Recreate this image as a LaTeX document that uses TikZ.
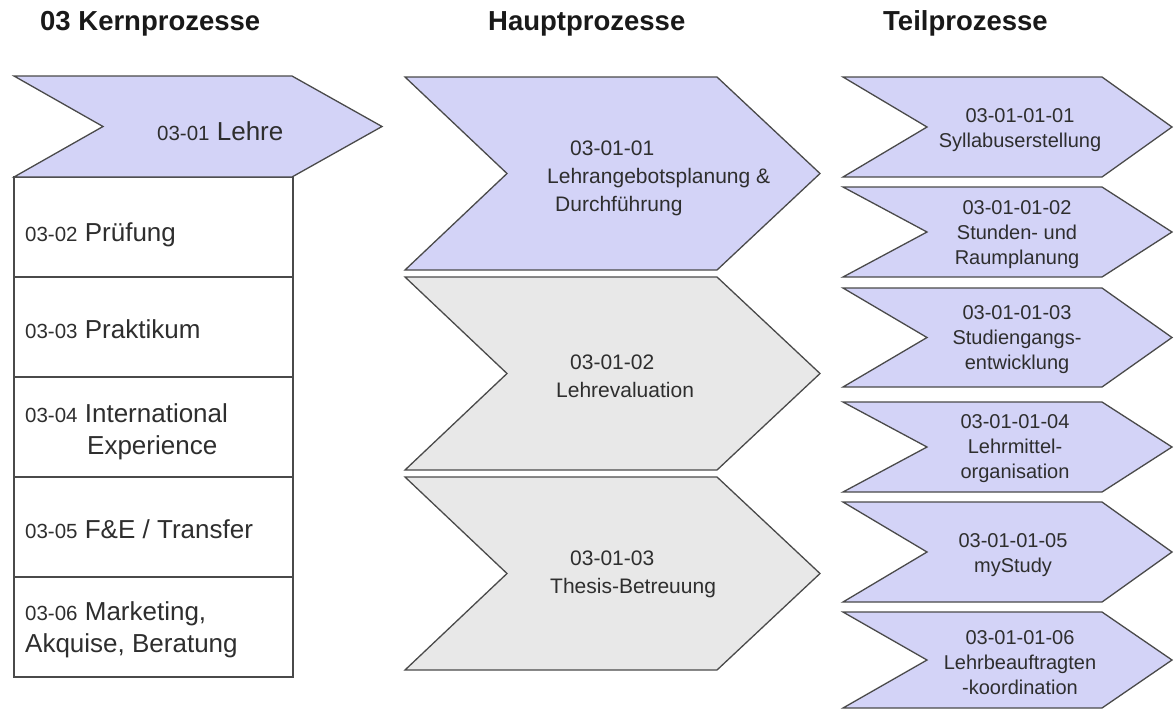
\documentclass[tikz,border=0pt]{standalone}
\usepackage{fontspec}
\setmainfont{Liberation Sans}
\usepackage{tikz}
\definecolor{lila}{HTML}{D3D3F7}
\definecolor{grau}{HTML}{E8E8E8}
\definecolor{rand}{HTML}{4A4A4A}
\definecolor{schrift}{HTML}{2E2E2E}
\tikzset{
  umriss/.style={draw=rand, line width=1.3pt, line join=miter},
  kbox/.style={umriss, fill=white, anchor=north west, minimum width=279pt, minimum height=100pt, inner sep=0pt, outer sep=0pt},
  kopf/.style={anchor=base west, inner sep=0pt, font=\bfseries\fontsize{27.5}{33}\selectfont, text=black!90},
  ktext/.style={anchor=base west, align=left, inner sep=0pt, font=\fontsize{26}{32}\selectfont, text=schrift},
  mtext/.style={anchor=west, align=left, inner sep=0pt, font=\fontsize{21}{28}\selectfont, text=schrift},
  ttext/.style={align=center, inner sep=0pt, font=\fontsize{20}{25}\selectfont, text=schrift}
}
\newcommand\klein[1]{{\fontsize{20.5}{24}\selectfont #1}}

\begin{document}
\begin{tikzpicture}[x=1pt, y=-1pt]
  \useasboundingbox (0,0) rectangle (1174,710);

  % links oben, rechts oben: x, y; Breite der Spitze; Tiefe der Kerbe
  \newcommand\Chev[7]{%
    \draw[umriss, fill=#7] (#1,#2) -- (#3,#2) -- ({#3+#5},{(#2+#4)/2})
      -- (#3,#4) -- (#1,#4) -- ({#1+#6},{(#2+#4)/2}) -- cycle;}

  % Ueberschriften
  \node[kopf] (hkern) at (40,30) {03 Kernprozesse};
  \node[kopf] (hhaupt) at (488,30) {Hauptprozesse};
  \node[kopf] (hteil) at (883,30) {Teilprozesse};

  % Kernprozesse
  \node[kbox] (k02) at (14,177) {};
  \node[kbox] (k03) at (14,277) {};
  \node[kbox] (k04) at (14,377) {};
  \node[kbox] (k05) at (14,477) {};
  \node[kbox] (k06) at (14,577) {};
  \Chev{14}{76}{292}{177}{90}{89}{lila}

  \node[ktext] (t01) at (157,140) {\klein{03-01} Lehre};
  \node[ktext] (t02) at (25,241) {\klein{03-02} Prüfung};
  \node[ktext] (t03) at (25,338) {\klein{03-03} Praktikum};
  \node[ktext] (t04) at (25,454) {\klein{03-04} International\\\hspace*{62pt}Experience}; % base = letzte Zeile
  \node[ktext] (t05) at (25,538) {\klein{03-05} F\&E / Transfer};
  \node[ktext] (t06) at (25,652) {\klein{03-06} Marketing,\\Akquise, Beratung};

  % Hauptprozesse
  \Chev{405}{77}{717}{270}{103}{102}{lila}
  \Chev{405}{277}{717}{470}{103}{102}{grau}
  \Chev{405}{477}{717}{670}{103}{102}{grau}

  \node[mtext] (h01) at (547,178) {\hspace*{23pt}03-01-01\\Lehrangebotsplanung \&\\\hspace*{8pt}Durchführung};
  \node[mtext] (h02) at (556,376) {\hspace*{14pt}03-01-02\\Lehrevaluation};
  \node[mtext] (h03) at (550,574) {\hspace*{20pt}03-01-03\\Thesis-Betreuung};

  % Teilprozesse
  \Chev{843}{77}{1102}{177}{70}{84}{lila}
  \Chev{843}{187}{1102}{277}{70}{84}{lila}
  \Chev{843}{288}{1102}{387}{70}{84}{lila}
  \Chev{843}{402}{1102}{492}{70}{84}{lila}
  \Chev{843}{502}{1102}{602}{70}{84}{lila}
  \Chev{843}{612}{1102}{708}{70}{84}{lila}

  \node[ttext] (p01) at (1020,130) {03-01-01-01\\Syllabuserstellung};
  \node[ttext] (p02) at (1017,235) {03-01-01-02\\Stunden- und\\Raumplanung};
  \node[ttext] (p03) at (1017,340) {03-01-01-03\\Studiengangs-\\entwicklung};
  \node[ttext] (p04) at (1015,449) {03-01-01-04\\Lehrmittel-\\organisation};
  \node[ttext] (p05) at (1013,555) {03-01-01-05\\myStudy};
  \node[ttext] (p06) at (1020,663) {03-01-01-06\\Lehrbeauftragten\\-koordination};
\end{tikzpicture}
\end{document}
